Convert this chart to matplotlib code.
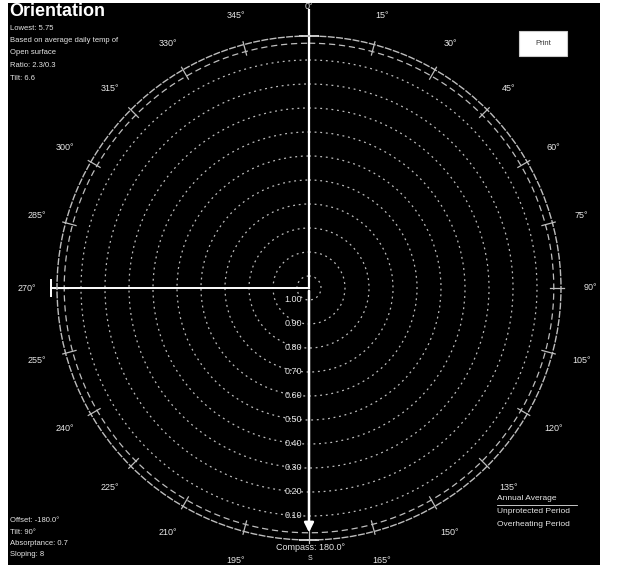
import numpy as np
import matplotlib.pyplot as plt
from matplotlib.patches import Rectangle

plt.rcParams['font.family'] = ['Liberation Sans', 'DejaVu Sans']

# radial rings (value at each ring, 1.0 nearest the centre)
ring_values = [1.0, 0.9, 0.8, 0.7, 0.6, 0.5, 0.4, 0.3, 0.2, 0.1]
ring_labels = ['1.00', '0.90', '0.80', '0.70', '0.60', '0.50', '0.40', '0.30', '0.20', '0.10']

# compass divisions every 15 degrees
compass_angles = list(range(0, 360, 15))
compass_labels = ['%d\u00b0' % a if a != 180 else '' for a in compass_angles]

compass_heading = 180.0   # arrow direction
wall_azimuth = 270.0      # facade normal

info_lines = ['Lowest: 5.75', 'Based on average daily temp of', 'Open surface', 'Ratio: 2.3/0.3', 'Tilt: 6.6']
site_lines = ['Offset: -180.0\u00b0', 'Tilt: 90\u00b0', 'Absorptance: 0.7', 'Sloping: 8']
legend_lines = ['Annual Average', 'Unprotected Period', 'Overheating Period']

fg = '#e6e6e6'
ring_col = '#bdbdbd'

fig = plt.figure(figsize=(6.34, 5.70), dpi=100, facecolor='white')

# black panel
bg = fig.add_axes([8/634, 5/570, 592/634, 562/570])
bg.set_facecolor('black')
bg.set_xticks([])
bg.set_yticks([])
for s in bg.spines.values():
    s.set_visible(False)

ax = fig.add_axes([57/634, 30/570, 504/634, 504/570], projection='polar')
ax.set_facecolor('black')
ax.set_theta_zero_location('N')
ax.set_theta_direction(-1)
ax.set_rlim(1.05, 0.0)

# rings
ax.set_rgrids(ring_values, labels=['']*len(ring_values))
ax.yaxis.grid(True, color=ring_col, linestyle=(0, (1.5, 3)), linewidth=0.9)
for v, lab in zip(ring_values, ring_labels):
    ax.annotate(lab, xy=(np.pi, v), xytext=(-5, 0), textcoords='offset points',
                ha='right', va='center', color=fg, fontsize=6.5)

# compass labels, no spokes
ax.set_thetagrids(compass_angles, compass_labels)
ax.xaxis.grid(False)
ax.tick_params(axis='x', colors=fg, labelsize=6.5, pad=11)
ax.spines['polar'].set_color(ring_col)
ax.spines['polar'].set_linestyle((0, (4, 2)))
ax.spines['polar'].set_linewidth(1.0)

# inner rim circle with division marks
th = np.linspace(0, 2*np.pi, 361)
ax.plot(th, np.full_like(th, 0.03), color=ring_col, linestyle=(0, (5, 3)), linewidth=0.9)
for a in compass_angles:
    ax.plot([np.deg2rad(a)]*2, [0.045, -0.012], color=ring_col, linewidth=0.9, clip_on=False)

# compass axis through centre
ax.plot([0, 0], [-0.11, 1.05], color='white', linewidth=1.6, clip_on=False)
ax.plot([0], [0.0], marker='_', markersize=14, color='white', mew=1.2, clip_on=False)
ax.annotate('', xy=(np.deg2rad(compass_heading), 0.02), xytext=(np.deg2rad(compass_heading), 1.05),
            arrowprops=dict(arrowstyle='-|>', color='white', lw=1.8, mutation_scale=14))
ax.plot([np.deg2rad(compass_heading)], [0.0], marker='_', markersize=14, color='white', mew=1.2,
        clip_on=False)

# facade normal
ax.plot([np.deg2rad(wall_azimuth)]*2, [-0.025, 1.05], color='white', linewidth=1.4, clip_on=False)
ax.plot([np.deg2rad(wall_azimuth)], [-0.025], marker='|', markersize=13, color='white', mew=1.4,
        clip_on=False)

# texts
fig.text(9/634, 1 - 3/570, 'Orientation', color='white', fontsize=13, fontweight='bold', va='top')
for i, line in enumerate(info_lines):
    fig.text(10/634, 1 - (28 + i*12.5)/570, line, color=fg, fontsize=5.5, va='center')
for i, line in enumerate(site_lines):
    fig.text(10/634, 1 - (521 + i*11.3)/570, line, color=fg, fontsize=5.5, va='center')
for i, line in enumerate(legend_lines):
    fig.text(497/634, 1 - (498 + i*13.5)/570, line, color=fg, fontsize=6, va='center')
fig.add_artist(plt.Line2D([497/634, 577/634], [1 - 505/570]*2, color=fg, lw=0.6))

fig.text(310/634, 1 - 548/570, 'Compass: %.1f\u00b0' % compass_heading, color=fg, fontsize=6.5,
         ha='center', va='center')
fig.text(310/634, 1 - 559/570, 'S', color=fg, fontsize=5, ha='center', va='center')

# print button
fig.add_artist(Rectangle((519/634, 1 - 56/570), 48/634, 25/570, transform=fig.transFigure,
                         facecolor='white', edgecolor='#cccccc', lw=0.8))
fig.text(543/634, 1 - 43.5/570, 'Print', color='#333333', fontsize=5.5, ha='center', va='center')

fig.savefig('out.png', dpi=100, facecolor='white')
